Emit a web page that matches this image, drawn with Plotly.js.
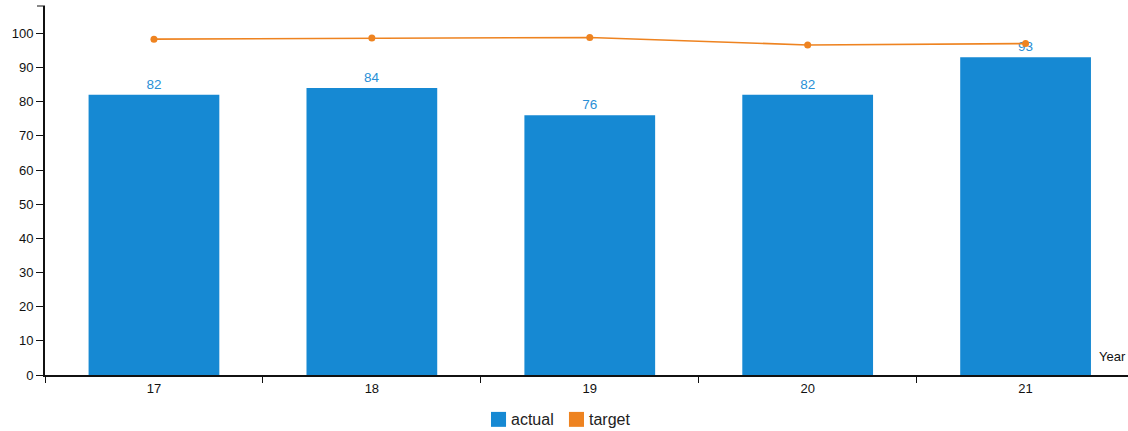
<!DOCTYPE html>
<html>
<head>
<meta charset="utf-8">
<script src="https://cdn.plot.ly/plotly-3.0.1.min.js"></script>
<style>
  html, body { margin: 0; padding: 0; background: #ffffff; }
  #chart { width: 1128px; height: 431px; }
</style>
</head>
<body>
<div id="chart"></div>
<script>
// Yearly results against targets
const years = ["17", "18", "19", "20", "21"];
const actual = [82, 84, 76, 82, 93];
const target = [98.3, 98.6, 98.8, 96.6, 97.0];
const yTicks = [0, 10, 20, 30, 40, 50, 60, 70, 80, 90, 100];

const BLUE = "#1689d3";
const ORANGE = "#ee8320";
const FONT = "Liberation Sans, Arial, sans-serif";

const traces = [
  {
    type: "bar",
    name: "actual",
    x: years,
    y: actual,
    width: 0.6,
    marker: { color: BLUE, line: { width: 0 } },
    text: actual.map(String),
    textposition: "outside",
    textfont: { family: FONT, size: 13.5, color: "#2a8fd6" },
    cliponaxis: false,
    showlegend: false,
    hoverinfo: "x+y"
  },
  {
    type: "scatter",
    mode: "lines+markers",
    name: "target",
    x: years,
    y: target,
    line: { color: ORANGE, width: 1.6 },
    marker: { color: ORANGE, size: 7 },
    cliponaxis: false,
    showlegend: false
  }
];

// legend swatches and labels, placed below the axis
const legendItems = [
  { label: "actual", color: BLUE, x0: 0.4118, x1: 0.4257, tx: 0.4280 },
  { label: "target", color: ORANGE, x0: 0.4838, x1: 0.4977, tx: 0.5000 }
];

const shapes = [
  // short cap at the top of the value axis
  { type: "line", xref: "paper", yref: "paper", x0: -8 / 1083, x1: 0, y0: 1, y1: 1,
    line: { color: "#111", width: 1 } }
];
const annotations = [
  { xref: "paper", yref: "paper", x: 1, y: 0, xanchor: "right", yanchor: "bottom",
    yshift: 9, showarrow: false, text: "Year",
    font: { family: FONT, size: 13, color: "#111" } }
];
legendItems.forEach(it => {
  shapes.push({ type: "rect", xref: "paper", yref: "paper",
    x0: it.x0, x1: it.x1, y0: -0.1, y1: -0.1405,
    fillcolor: it.color, line: { width: 0 } });
  annotations.push({ xref: "paper", yref: "paper", x: it.tx, y: -0.1216,
    xanchor: "left", yanchor: "middle", showarrow: false, text: it.label,
    font: { family: FONT, size: 16, color: "#222" } });
});

const layout = {
  width: 1128,
  height: 431,
  margin: { l: 45, r: 0, t: 6, b: 56, pad: 0 },
  paper_bgcolor: "#ffffff",
  plot_bgcolor: "#ffffff",
  font: { family: FONT, size: 13, color: "#111" },
  showlegend: false,
  bargap: 0.4,
  xaxis: {
    type: "category",
    range: [-0.5, 4.47],
    tickson: "boundaries",
    ticks: "outside",
    ticklen: 6,
    tickwidth: 1,
    tickcolor: "#111",
    showline: true,
    linecolor: "#111",
    linewidth: 2,
    showgrid: false,
    zeroline: false,
    tickfont: { family: FONT, size: 13, color: "#111" },
    fixedrange: true
  },
  yaxis: {
    range: [0, 108],
    tickvals: yTicks,
    ticktext: yTicks.map(String),
    ticks: "outside",
    ticklen: 7,
    tickwidth: 1,
    tickcolor: "#111",
    showline: true,
    linecolor: "#111",
    linewidth: 2,
    showgrid: false,
    zeroline: false,
    tickfont: { family: FONT, size: 13, color: "#111" },
    fixedrange: true
  },
  shapes: shapes,
  annotations: annotations
};

Plotly.newPlot("chart", traces, layout, { displayModeBar: false, staticPlot: true });
</script>
</body>
</html>
